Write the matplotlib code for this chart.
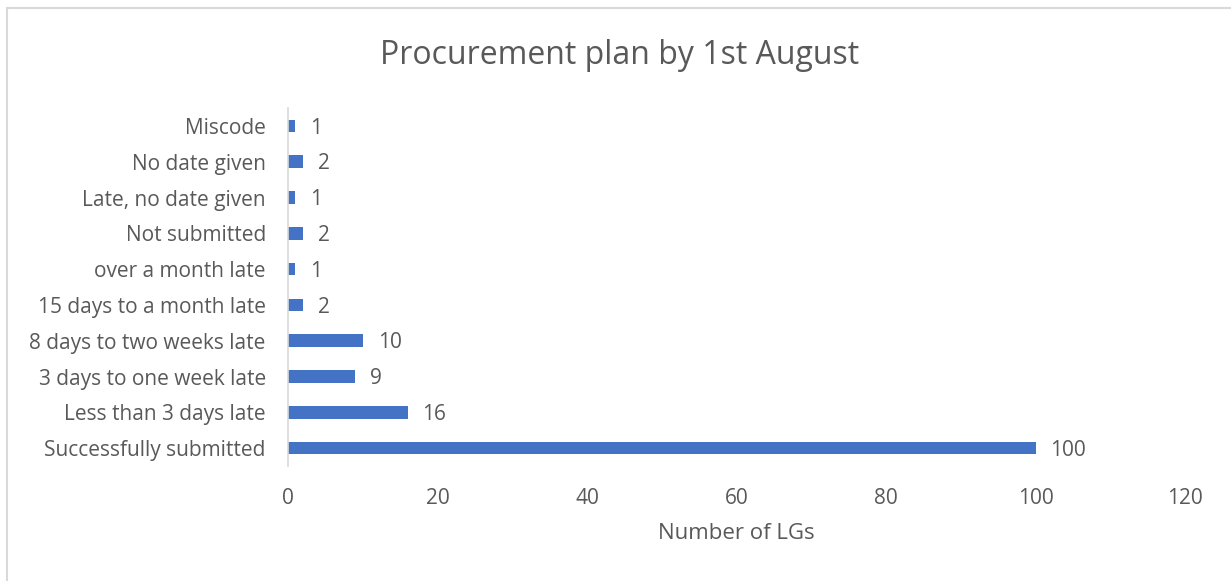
import matplotlib.pyplot as plt
from matplotlib.patches import Rectangle

categories = ['Successfully submitted', 'Less than 3 days late', '3 days to one week late',
              '8 days to two weeks late', '15 days to a month late', 'over a month late',
              'Not submitted', 'Late, no date given', 'No date given', 'Miscode']
values = [100, 16, 9, 10, 2, 1, 2, 1, 2, 1]
xticks = [0, 20, 40, 60, 80, 100, 120]

plt.rcParams['font.family'] = ['Open Sans', 'DejaVu Sans']
grey = '#595959'

fig = plt.figure(figsize=(12.31, 5.81), dpi=100)
ax = fig.add_axes([288 / 1231, 1 - 466 / 581, (1185 - 288) / 1231, (466 - 108) / 581])

bars = ax.barh(range(len(categories)), values, height=0.35, color='#4472C4')
for i, v in enumerate(values):
    ax.text(v + 2.0, i - 0.06, str(v), va='center', ha='left', fontsize=15, color=grey)

ax.set_xlim(0, 120)
ax.set_ylim(-0.5, len(categories) - 0.5)
ax.set_xticks(xticks)
ax.set_yticks(range(len(categories)))
ax.set_yticklabels(categories)
ax.tick_params(axis='both', length=0, labelsize=15, colors=grey)
ax.tick_params(axis='x', pad=16)
ax.tick_params(axis='y', pad=16)
for s in ['top', 'right', 'bottom']:
    ax.spines[s].set_visible(False)
ax.spines['left'].set_color('#d9d9d9')
ax.spines['left'].set_linewidth(1.2)

ax.set_xlabel('Number of LGs', fontsize=16, color=grey, labelpad=10)
fig.text(620 / 1231, 1 - 55 / 581, 'Procurement plan by 1st August', ha='center', va='center',
         fontsize=23, color=grey)

fig.patches.append(Rectangle((7 / 1231, -0.1), 1.2, 1 - 8 / 581 + 0.1, transform=fig.transFigure,
                             fill=False, edgecolor='#d9d9d9', linewidth=1.5))

fig.savefig('out.png', dpi=100)
